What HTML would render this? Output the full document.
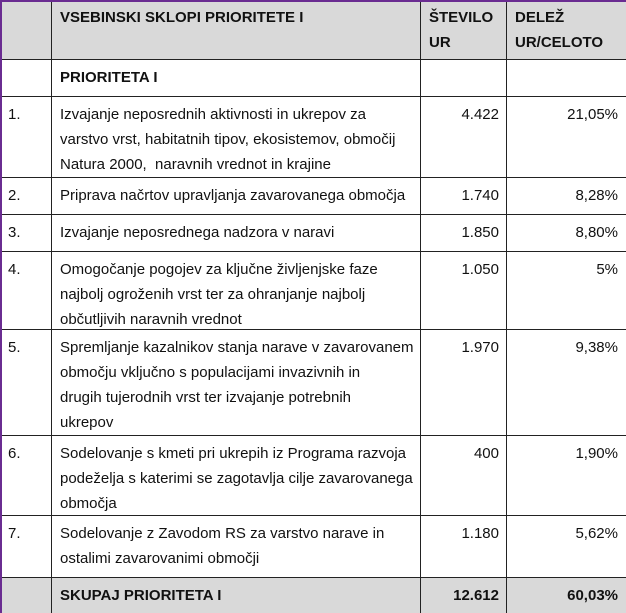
<!DOCTYPE html>
<html><head><meta charset="utf-8"><style>
body{margin:0;width:626px;height:613px;overflow:hidden;background:#fff;font-family:"Liberation Sans",sans-serif;position:relative;}
.c{position:absolute;box-sizing:border-box;padding:5px 8px 0 8px;font-size:15px;line-height:25px;color:#111;overflow:hidden;white-space:nowrap;}
.g{background:#d9d9d9;font-weight:bold;}
.r{text-align:right;}
.hl{position:absolute;left:0;width:626px;height:0;border-top:1.5px solid #222;}
.vl{position:absolute;top:0;height:613px;width:0;border-left:1.5px solid #222;}
</style></head><body>
<div class="g" style="position:absolute;left:0;top:0;width:626px;height:60px"></div>
<div class="g" style="position:absolute;left:0;top:578px;width:626px;height:35px"></div>
<div id="cells"></div>
<div style="position:absolute;left:0;top:0;width:626px;height:0;border-top:2px solid #6a2c91"></div>
<div style="position:absolute;left:0;top:0;width:0;height:613px;border-left:2px solid #6a2c91"></div>
<script>
const rowsY=[0,60,97,178,215,252,330,436,516,578,613];
const colsX=[0,52,421,507,626];
const rows=[
 ["","VSEBINSKI SKLOPI PRIORITETE I","ŠTEVILO<br>UR","DELEŽ<br>UR/CELOTO","g"],
 ["","<b>PRIORITETA I</b>","","",""],
 ["1.","Izvajanje neposrednih aktivnosti in ukrepov za<br>varstvo vrst, habitatnih tipov, ekosistemov, območij<br>Natura 2000,&nbsp; naravnih vrednot in krajine","4.422","21,05%",""],
 ["2.","Priprava načrtov upravljanja zavarovanega območja","1.740","8,28%",""],
 ["3.","Izvajanje neposrednega nadzora v naravi","1.850","8,80%",""],
 ["4.","Omogočanje pogojev za ključne življenjske faze<br>najbolj ogroženih vrst ter za ohranjanje najbolj<br>občutljivih naravnih vrednot","1.050","5%",""],
 ["5.","Spremljanje kazalnikov stanja narave v zavarovanem<br>območju vključno s populacijami invazivnih in<br>drugih tujerodnih vrst ter izvajanje potrebnih<br>ukrepov","1.970","9,38%",""],
 ["6.","Sodelovanje s kmeti pri ukrepih iz Programa razvoja<br>podeželja s katerimi se zagotavlja cilje zavarovanega<br>območja","400","1,90%",""],
 ["7.","Sodelovanje z Zavodom RS za varstvo narave in<br>ostalimi zavarovanimi območji","1.180","5,62%",""],
 ["","SKUPAJ PRIORITETA I","12.612","60,03%","g"]
];
const host=document.getElementById('cells');
rows.forEach((r,i)=>{
 for(let j=0;j<4;j++){
  const d=document.createElement('div');
  d.className='c'+(r[4]?' g':'')+((j>=2&&i>0)?' r':'');
  d.style.left=colsX[j]+'px';d.style.top=rowsY[i]+'px';
  d.style.width=(colsX[j+1]-colsX[j])+'px';d.style.height=(rowsY[i+1]-rowsY[i])+'px';
  d.style.background='transparent';
  d.innerHTML=r[j];
  
  
  host.appendChild(d);
 }
});
rowsY.slice(1,-1).forEach(y=>{
 const l=document.createElement('div');l.className='hl';l.style.top=(y-1)+'px';
 
 
 host.appendChild(l);
});
colsX.slice(1,-1).forEach(x=>{
 const l=document.createElement('div');l.className='vl';l.style.left=(x-1)+'px';
 
 
 host.appendChild(l);
});
</script>
</body></html>
